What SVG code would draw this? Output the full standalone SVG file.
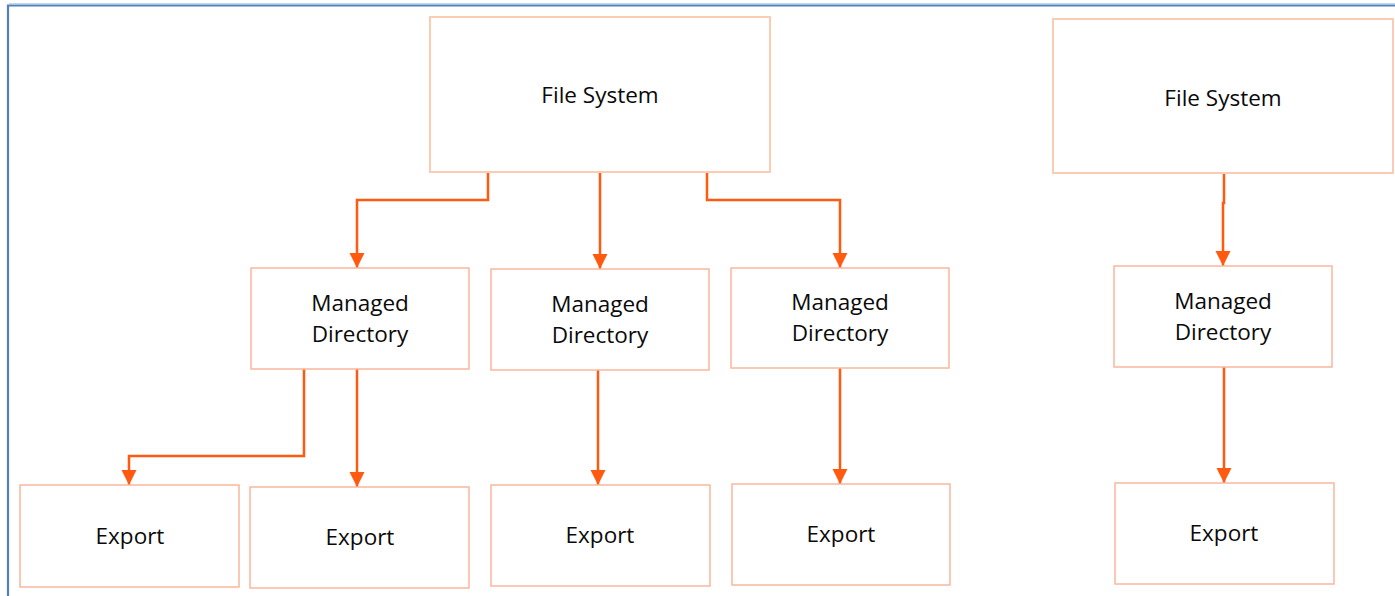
<svg xmlns="http://www.w3.org/2000/svg" width="1395" height="596" viewBox="0 0 1395 596">
  <style>
    .box { fill: #ffffff; stroke: #f9b79c; stroke-width: 1.5; }
    .top { stroke: #fbcbb4; stroke-width: 2; }
    .lbl { font-family: "Open Sans", "Liberation Sans", sans-serif; font-size: 22.5px; fill: #0a0a0a; text-anchor: middle; }
    .wire { fill: none; stroke: #ff5a0f; stroke-width: 2.5; }
  </style>
  <defs>
    <marker id="arrow" markerUnits="userSpaceOnUse" markerWidth="18" markerHeight="18" refX="15" refY="7.5" orient="auto">
      <path d="M0,0 L15,7.5 L0,15 Z" fill="#ff5a0f"/>
    </marker>
  </defs>

  <!-- outer frame -->
  <rect x="0" y="0" width="1395" height="596" fill="#ffffff"/>
  <path d="M8,596 V5.5 H1395" fill="none" stroke="#4f81bd" stroke-width="2.2"/>
  <path d="M9,3.5 H1395" fill="none" stroke="#c6d5ea" stroke-width="1"/>

  <!-- connectors -->
  <g id="connectors">
    <path class="wire" d="M488,172 V200 H357 V268" marker-end="url(#arrow)"/>
    <path class="wire" d="M600,172 V269" marker-end="url(#arrow)"/>
    <path class="wire" d="M707,172 V200 H840 V268" marker-end="url(#arrow)"/>
    <path class="wire" d="M1224,173 V203 H1223 V266" marker-end="url(#arrow)"/>
    <path class="wire" d="M304,369 V456 H129 V485" marker-end="url(#arrow)"/>
    <path class="wire" d="M357,369 V487" marker-end="url(#arrow)"/>
    <path class="wire" d="M598,370 V485" marker-end="url(#arrow)"/>
    <path class="wire" d="M840,368 V484" marker-end="url(#arrow)"/>
    <path class="wire" d="M1224,367 V483" marker-end="url(#arrow)"/>
  </g>

  <!-- file systems -->
  <g id="fs1">
    <rect class="box top" x="430" y="17" width="340" height="155"/>
    <text class="lbl" x="600" y="103">File System</text>
  </g>
  <g id="fs2">
    <rect class="box top" x="1053" y="19" width="340" height="154"/>
    <text class="lbl" x="1223" y="106">File System</text>
  </g>

  <!-- managed directories -->
  <g id="md1">
    <rect class="box" x="251" y="268" width="218" height="101"/>
    <text class="lbl" x="360" y="311">Managed</text>
    <text class="lbl" x="360" y="342">Directory</text>
  </g>
  <g id="md2">
    <rect class="box" x="491" y="269" width="218" height="101"/>
    <text class="lbl" x="600" y="312">Managed</text>
    <text class="lbl" x="600" y="343">Directory</text>
  </g>
  <g id="md3">
    <rect class="box" x="731" y="268" width="218" height="100"/>
    <text class="lbl" x="840" y="310">Managed</text>
    <text class="lbl" x="840" y="341">Directory</text>
  </g>
  <g id="md4">
    <rect class="box" x="1114" y="266" width="218" height="101"/>
    <text class="lbl" x="1223" y="309">Managed</text>
    <text class="lbl" x="1223" y="340">Directory</text>
  </g>

  <!-- exports -->
  <g id="ex1">
    <rect class="box" x="20" y="485" width="219" height="102"/>
    <text class="lbl" x="130" y="544">Export</text>
  </g>
  <g id="ex2">
    <rect class="box" x="250" y="487" width="219" height="101"/>
    <text class="lbl" x="360" y="545">Export</text>
  </g>
  <g id="ex3">
    <rect class="box" x="491" y="485" width="219" height="101"/>
    <text class="lbl" x="600" y="543">Export</text>
  </g>
  <g id="ex4">
    <rect class="box" x="732" y="484" width="218" height="101"/>
    <text class="lbl" x="841" y="542">Export</text>
  </g>
  <g id="ex5">
    <rect class="box" x="1115" y="483" width="219" height="101"/>
    <text class="lbl" x="1224" y="541">Export</text>
  </g>
</svg>
